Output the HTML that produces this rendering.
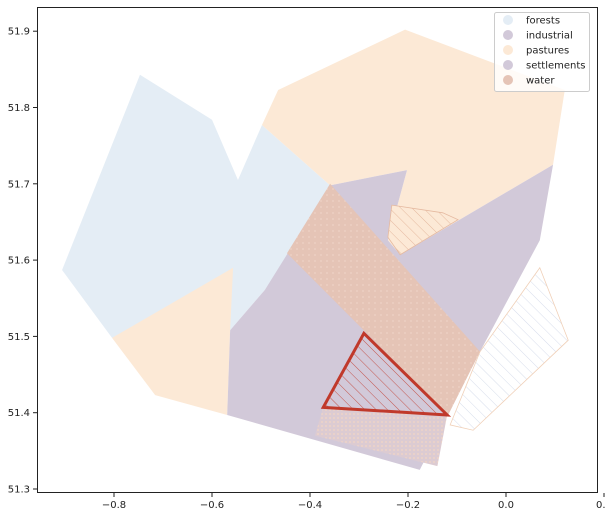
<!DOCTYPE html>
<html><head><meta charset="utf-8"><style>
body{margin:0;background:#fff;}
svg{display:block;font-family:"DejaVu Sans","Liberation Sans",sans-serif;}
</style></head><body>
<svg id="chart" width="605" height="517" viewBox="0 0 605 517">
<defs>
<pattern id="hatchP" patternUnits="userSpaceOnUse" width="8" height="8" patternTransform="rotate(-45)"><line x1="0" y1="0" x2="0" y2="8" stroke="#e5b9a0" stroke-width="1"/></pattern>
<pattern id="hatchW" patternUnits="userSpaceOnUse" width="8" height="8" patternTransform="rotate(-45)"><line x1="0" y1="0" x2="0" y2="8" stroke="#cdd4e6" stroke-width="0.8"/></pattern>
<pattern id="hatchR" patternUnits="userSpaceOnUse" width="8" height="8" patternTransform="rotate(-45)"><line x1="0" y1="0" x2="0" y2="8" stroke="#c0392b" stroke-width="0.8"/></pattern>
<pattern id="dots" patternUnits="userSpaceOnUse" width="4" height="4"><rect width="4" height="4" fill="#dccbd2"/><circle cx="2" cy="2" r="0.9" fill="#f3d6c4"/></pattern>
<pattern id="wdots" patternUnits="userSpaceOnUse" width="6" height="6"><rect width="6" height="6" fill="#e5c4b6"/><circle cx="3" cy="3" r="0.6" fill="#f6e2d6"/></pattern>
</defs>
<g id="plot"></g>
<rect x="37.5" y="7.5" width="560" height="485" fill="none" stroke="#222" stroke-width="1"/>
<g id="axes"></g>
<g>
<rect x="494.5" y="12.5" width="95" height="79" rx="2" fill="#fff" fill-opacity="0.8" stroke="#ccc"/>
</g>
<g id="legend"></g>
</svg>
<script>
const xTicks=[-0.8,-0.6,-0.4,-0.2,0.0,0.2];
const yTicks=[51.3,51.4,51.5,51.6,51.7,51.8,51.9];
const categories=["forests","industrial","pastures","settlements","water"];
const colors=["#e4edf5","#d2c9d9","#fce9d6","#d2c9d9","#e5c4b6"];
const forests=[[-0.906,51.587],[-0.747,51.843],[-0.600,51.784],[-0.547,51.705],[-0.498,51.777],[-0.359,51.698],[-0.441,51.607],[-0.492,51.561],[-0.563,51.508],[-0.804,51.498]];
const pastures1=[[-0.804,51.498],[-0.557,51.590],[-0.563,51.508],[-0.569,51.397],[-0.716,51.423]];
const pastures2=[[-0.498,51.777],[-0.465,51.823],[-0.206,51.902],[0.120,51.823],[0.096,51.725],[-0.216,51.607],[-0.241,51.626],[-0.202,51.718],[-0.359,51.698]];
const settlements=[[-0.359,51.698],[-0.202,51.718],[-0.241,51.626],[-0.216,51.607],[0.096,51.725],[0.069,51.626],[-0.053,51.480],[-0.176,51.325],[-0.569,51.397],[-0.563,51.508],[-0.492,51.561]];
const waterBand=[[-0.359,51.700],[-0.053,51.480],[-0.118,51.397],[-0.447,51.609]];
const waterDots=[[-0.373,51.407],[-0.120,51.397],[-0.140,51.330],[-0.390,51.370]];
const hatchedPasture=[[-0.233,51.672],[-0.129,51.662],[-0.098,51.653],[-0.216,51.607],[-0.241,51.630]];
const hatchedWhite=[[0.069,51.590],[0.127,51.495],[-0.067,51.377],[-0.114,51.384],[-0.053,51.480]];
const redTriangle=[[-0.290,51.504],[-0.120,51.397],[-0.373,51.407]];

const X=v=>506+(v)*490;
const Y=v=>489-(v-51.3)*763;
const NS="http://www.w3.org/2000/svg";
const plot=document.getElementById('plot');
function poly(pts,fill,stroke,sw,name){
  const p=document.createElementNS(NS,'polygon');
  p.setAttribute('points',pts.map(q=>X(q[0])+','+Y(q[1])).join(' '));
  p.setAttribute('fill',fill);
  p.setAttribute('stroke',stroke||'none');
  p.setAttribute('stroke-width',sw||0);
  
  
  plot.appendChild(p);
}
poly(forests,colors[0],null,0,'forests-polygon');
poly(pastures1,colors[2],null,0,'pastures-polygon-west');
poly(pastures2,colors[2],null,0,'pastures-polygon-north');
poly(settlements,colors[3],null,0,'settlements-polygon');
poly(waterBand,'url(#wdots)',null,0,'water-band-polygon');
poly(waterDots,'url(#dots)',null,0,'water-dotted-polygon');
poly(hatchedPasture,colors[2],null,0,'hatched-pasture-fill');
poly(hatchedPasture,'url(#hatchP)','#e5b9a0',0.8,'hatched-pasture-polygon');
poly(hatchedWhite,'url(#hatchW)','#f0d0b8',0.8,'hatched-outline-polygon');
poly(redTriangle,'url(#hatchR)','#c0392b',3,'highlight-triangle');

const axes=document.getElementById('axes');
function el(tag,attrs,text){const e=document.createElementNS(NS,tag);for(const k in attrs)e.setAttribute(k,attrs[k]);if(text!==undefined)e.textContent=text;axes.appendChild(e);return e;}
xTicks.forEach(t=>{
  const x=X(t);
  const l=el('line',{x1:x,x2:x,y1:493,y2:497,stroke:'#222'});
  
  
  const tx=el('text',{x:x,y:508,'font-size':10,'text-anchor':'middle',fill:'#222'},t.toFixed(1).replace('-','−'));
  
  
});
yTicks.forEach(t=>{
  const y=Y(t);
  const l=el('line',{x1:33,x2:37,y1:y,y2:y,stroke:'#222'});
  
  
  const tx=el('text',{x:30,y:y+3.5,'font-size':10,'text-anchor':'end',fill:'#222'},t.toFixed(1));
  
  
});
const lg=document.getElementById('legend');
categories.forEach((c,i)=>{
  const y=20+i*15;
  const ci=document.createElementNS(NS,'circle');
  ci.setAttribute('cx',508);ci.setAttribute('cy',y);ci.setAttribute('r',5);ci.setAttribute('fill',colors[i]);
  
  
  lg.appendChild(ci);
  const t=document.createElementNS(NS,'text');
  t.setAttribute('x',526);t.setAttribute('y',y+3.5);t.setAttribute('font-size',10);t.setAttribute('fill','#222');
  t.textContent=c;
  
  
  lg.appendChild(t);
});
</script>
</body></html>
